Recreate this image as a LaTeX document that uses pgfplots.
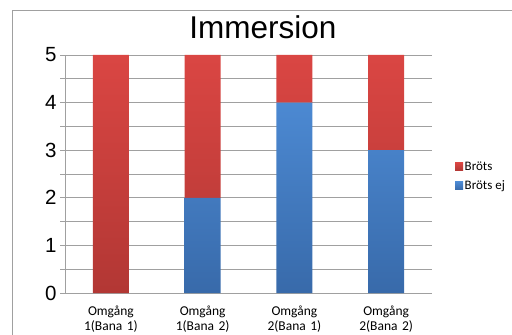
\documentclass[border=0pt]{standalone}
\usepackage{fontspec}
\setmainfont{Liberation Sans}
\newfontfamily\carlito{Carlito}
\usepackage{pgfplots}
\pgfplotsset{compat=1.18}
\definecolor{rtop}{RGB}{218,70,67}
\definecolor{rbot}{RGB}{178,55,52}
\definecolor{btop}{RGB}{76,137,210}
\definecolor{bbot}{RGB}{56,106,170}
\definecolor{gridc}{RGB}{160,160,160}
\begin{document}
\begin{tikzpicture}[x=1pt,y=1pt]
\path[use as bounding box] (0,0) rectangle (512,335);
\draw[gridc] (12,-5) -- (12,325) -- (520,325);
\node[font=\fontsize{31.5}{35}\selectfont] at (263,308) {Immersion};
\begin{axis}[
  at={(65pt,42pt)}, anchor=south west,
  scale only axis, width=367pt, height=238pt,
  ybar stacked, bar width=36pt,
  xmin=-0.5, xmax=3.5, ymin=0, ymax=5,
  xtick={0,1,2,3},
  xticklabels={{Omgång\\1(Bana 1)},{Omgång\\1(Bana 2)},{Omgång\\2(Bana 1)},{Omgång\\2(Bana 2)}},
  xtick style={draw=none},
  minor xtick={-0.5,0.5,1.5,2.5,3.5},
  ytick={0,1,2,3,4,5},
  minor ytick={0.5,1.5,2.5,3.5,4.5},
  ymajorgrids, yminorgrids,
  major grid style={gridc, line width=0.6pt},
  minor grid style={gridc, line width=0.6pt},
  axis x line*=bottom, axis y line*=left,
  axis line style={gridc, line width=0.6pt},
  tick align=outside, major tick length=5pt, minor tick length=5pt,
  tick style={gridc, line width=0.6pt},
  xticklabel style={font=\carlito\fontsize{13.5}{15}\selectfont, align=center, text width=80pt, yshift=-4pt},
  yticklabel style={font=\fontsize{20.5}{24}\selectfont},
  /pgf/number format/assume math mode=true,
  legend style={draw=none, fill=none, at={(1,0.49)}, anchor=west, xshift=20pt,
    font=\carlito\fontsize{13}{15}\selectfont, row sep=5pt, nodes={inner xsep=1.5pt}},
  legend cell align=left,
  reverse legend,
  legend image code/.code={\fill[#1] (0pt,-4pt) rectangle (8pt,4pt);},
]
\addplot[draw=none, top color=btop, bottom color=bbot] coordinates {(0,0) (1,2) (2,4) (3,3)};
\addplot[draw=none, top color=rtop, bottom color=rbot] coordinates {(0,5) (1,3) (2,1) (3,2)};
\legend{Bröts ej, Bröts}
\end{axis}
\end{tikzpicture}
\end{document}
